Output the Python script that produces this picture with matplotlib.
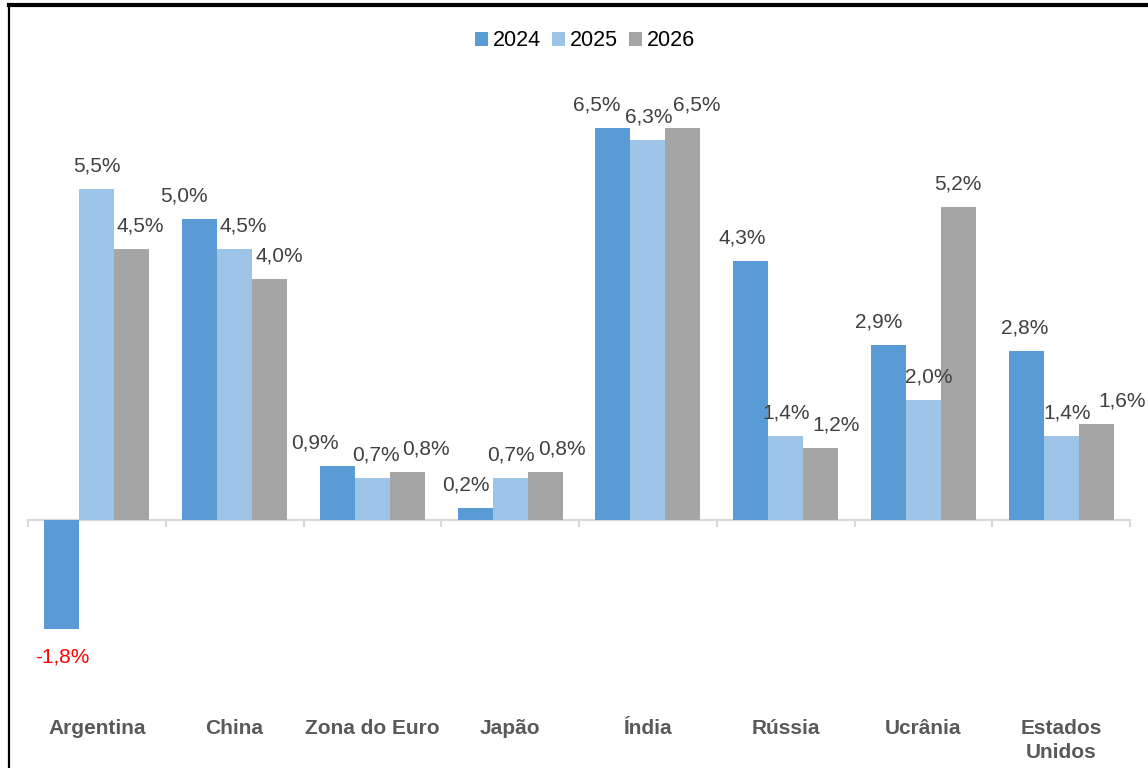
import numpy as np
import matplotlib.pyplot as plt
from matplotlib.lines import Line2D
from matplotlib.transforms import blended_transform_factory

paises = ['Argentina', 'China', 'Zona do Euro', 'Japão', 'Índia',
          'Rússia', 'Ucrânia', 'Estados\nUnidos']
anos = ['2024', '2025', '2026']
v2024 = [-1.8, 5.0, 0.9, 0.2, 6.5, 4.3, 2.9, 2.8]
v2025 = [5.5, 4.5, 0.7, 0.7, 6.3, 1.4, 2.0, 1.4]
v2026 = [4.5, 4.0, 0.8, 0.8, 6.5, 1.2, 5.2, 1.6]
cores = ['#5B9BD5', '#9DC3E6', '#A5A5A5']

# horizontal nudges (px) for labels, like excel moves them to avoid overlap
nudge = [
    [0, -16, -22, -9, -16, -8, -10, -1],
    [0, 9, 4, 1, 1, 0, 5, 6],
    [8, 10, 19, 17, 14, 15, -1, 26],
]

fig = plt.figure(figsize=(11.48, 7.68), dpi=100)
ax = fig.add_axes([28 / 1148, 97 / 768, 1102 / 1148, 603 / 768])

x = np.arange(len(paises))
w = 0.254
series = [v2024, v2025, v2026]
for i, (vals, cor, ano) in enumerate(zip(series, cores, anos)):
    pos = x + (i - 1) * w
    ax.bar(pos, vals, w, color=cor, label=ano, zorder=2)
    for j, (p, v) in enumerate(zip(pos, vals)):
        txt = f'{v:.1f}%'.replace('.', ',')
        if v < 0:
            ax.annotate(txt, (p, v), xytext=(0, -28 * 0.72), textcoords='offset points',
                        ha='center', va='center', fontsize=15, color='#FF0000',
                        family='Liberation Sans')
        else:
            ax.annotate(txt, (p, v), xytext=(nudge[i][j] * 0.72, 23 * 0.72),
                        textcoords='offset points', ha='center', va='center',
                        fontsize=15, color='#404040', family='Liberation Sans')

ax.set_xlim(-0.5, len(paises) - 0.5)
ax.set_ylim(-2.5, 7.5)
for s in ['top', 'right', 'left']:
    ax.spines[s].set_visible(False)
ax.spines['bottom'].set_position(('data', 0))
ax.spines['bottom'].set_color('#D9D9D9')
ax.spines['bottom'].set_linewidth(1.5)
ax.spines['bottom'].set_zorder(1)
ax.set_yticks([])
ax.set_xticks(x)
ax.set_xticklabels([])
ax.tick_params(axis='x', which='major', length=0)
ax.set_xticks(np.arange(len(paises) + 1) - 0.5, minor=True)
ax.tick_params(axis='x', which='minor', length=5, width=1.5, color='#D9D9D9',
               direction='out')

trans = blended_transform_factory(ax.transData, ax.transAxes)
for xi, nome in zip(x, paises):
    ax.text(xi, -0.08, nome, transform=trans, ha='center', va='top',
            fontsize=15, fontweight='bold', color='#595959',
            family='Liberation Sans', linespacing=1.3)

fig.legend(loc='center', bbox_to_anchor=(585 / 1148, 1 - 41 / 768), ncol=3,
           frameon=False, handlelength=0.6, handleheight=0.6,
           handletextpad=0.25, columnspacing=0.5,
           prop={'family': 'Liberation Sans', 'size': 15.5})

# outer frame
fig.add_artist(Line2D([9 / 1148, 9 / 1148], [0, 1 - 5 / 768], color='black', lw=1.6,
                      transform=fig.transFigure))
fig.add_artist(Line2D([9 / 1148, 1], [1 - 5 / 768, 1 - 5 / 768], color='black', lw=3,
                      transform=fig.transFigure))

fig.savefig('out.png', dpi=100)
